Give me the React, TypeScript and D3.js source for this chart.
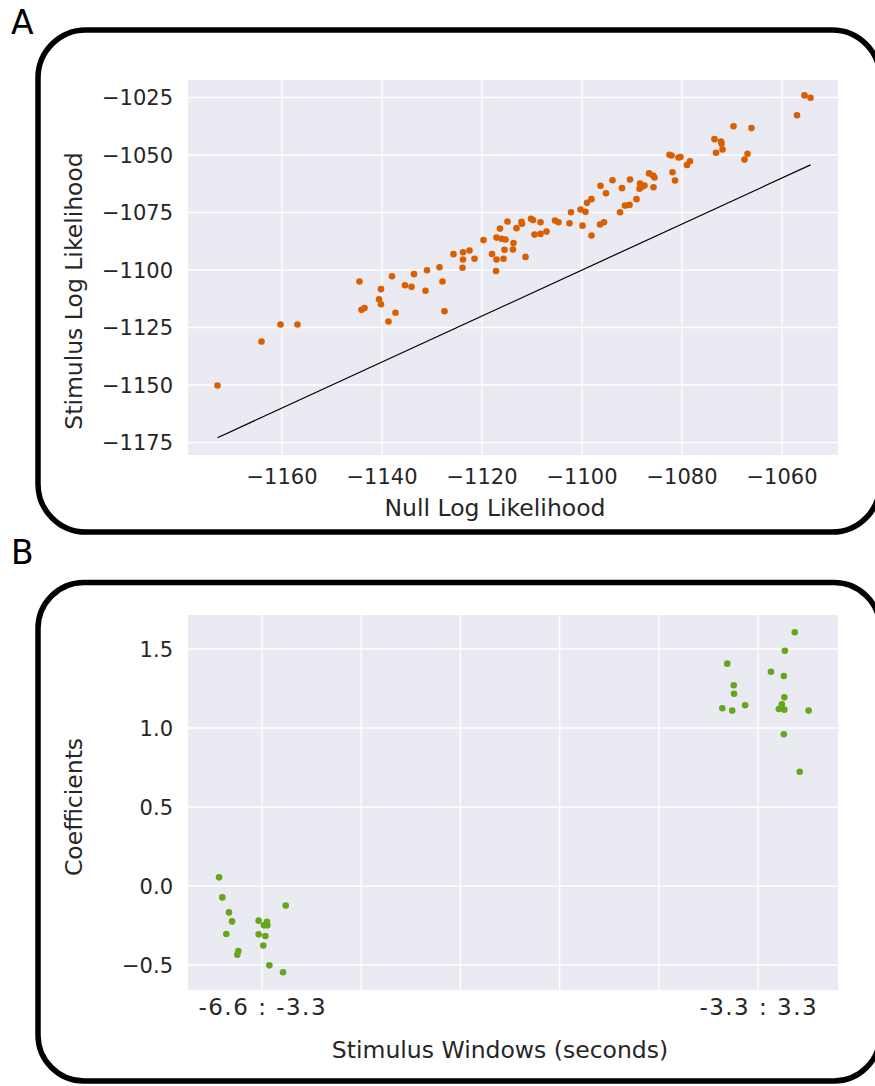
import React from "react";
import * as d3 from "d3";

// Panel A: log likelihood per unit
const nullLL = [
  -1172.9, -1164.1, -1160.3, -1156.9, -1144.5, -1144.1, -1143.5, -1140.2, -1140.6, -1140.2,
  -1138.7, -1137.3, -1138.0, -1135.4, -1134.1, -1133.6, -1131.3, -1131.0, -1128.5, -1127.9,
  -1127.5, -1125.7, -1123.8, -1123.8, -1123.9, -1122.5, -1121.5, -1119.7, -1118.0, -1117.1,
  -1117.1, -1117.2, -1116.4, -1116.1, -1115.3, -1115.5, -1115.7, -1114.9, -1113.7, -1113.8,
  -1113.1, -1112.1, -1112.0, -1111.3, -1110.2, -1109.8, -1109.5, -1108.3, -1108.3, -1107.1,
  -1105.4, -1104.7, -1102.5, -1102.2, -1100.3, -1099.3, -1099.9, -1098.1, -1099.0, -1098.1,
  -1096.3, -1096.4, -1095.6, -1095.2, -1093.9, -1092.4, -1092.0, -1091.4, -1090.5, -1090.4,
  -1089.1, -1088.4, -1088.5, -1088.0, -1087.5, -1086.6, -1085.8, -1085.5, -1085.7, -1082.5,
  -1082.1, -1081.9, -1081.4, -1080.7, -1080.3, -1079.0, -1078.4, -1073.5, -1073.2, -1072.2,
  -1072.1, -1071.9, -1069.7, -1067.5, -1066.9, -1066.1, -1057.0, -1055.5, -1054.3,
];
const stimLL = [
  -1150.2, -1131.1, -1123.7, -1123.7, -1105.0, -1117.3, -1116.5, -1108.3, -1112.7, -1114.9,
  -1122.4, -1118.6, -1102.7, -1106.6, -1107.3, -1101.8, -1109.0, -1100.1, -1098.8, -1105.0,
  -1117.9, -1093.1, -1092.3, -1095.4, -1099.0, -1091.5, -1095.1, -1087.0, -1093.0, -1085.9,
  -1095.4, -1100.4, -1082.0, -1086.4, -1086.7, -1091.2, -1095.1, -1078.9, -1088.3, -1091.1,
  -1081.8, -1079.0, -1079.9, -1094.3, -1077.7, -1078.3, -1084.6, -1084.3, -1079.2, -1083.3,
  -1078.5, -1079.2, -1079.7, -1074.9, -1073.7, -1074.7, -1080.7, -1085.0, -1070.8, -1069.2,
  -1063.4, -1080.2, -1079.2, -1066.6, -1061.0, -1074.9, -1064.4, -1072.0, -1071.7, -1060.7,
  -1069.2, -1062.4, -1064.7, -1063.8, -1063.3, -1058.0, -1058.9, -1059.8, -1064.0, -1049.9,
  -1050.2, -1057.5, -1061.1, -1051.1, -1050.9, -1054.3, -1052.7, -1043.1, -1049.0, -1044.1,
  -1045.1, -1047.6, -1037.5, -1052.0, -1049.5, -1038.3, -1032.7, -1024.1, -1025.1,
];
const xTicksA = [-1160, -1140, -1120, -1100, -1080, -1060];
const yTicksA = [-1175, -1150, -1125, -1100, -1075, -1050, -1025];

// Panel B: coefficients per stimulus window (strip plot)
const windowLabels = ["-6.6 : -3.3", "-3.3 : 3.3"];
const windowPos = [0, 5];
const gridPosB = [0, 1, 2, 3, 4, 5];
const coefWindow = [
  0, 0, 0, 0, 0, 0, 0, 0, 0, 0, 0, 0, 0, 0, 0, 0, 0,
  1, 1, 1, 1, 1, 1, 1, 1, 1, 1, 1, 1, 1, 1, 1, 1, 1,
];
const coefJitter = [
  -0.433, -0.4, -0.333, -0.302, -0.36, -0.239, -0.249, -0.034, 0.05, 0.02, 0.054, -0.034, 0.034, 0.013, 0.074, 0.212, 0.239,
  0.37, 0.27, -0.31, 0.13, 0.26, -0.245, -0.242, 0.265, -0.13, -0.36, -0.26, 0.24, 0.21, 0.265, 0.51, 0.26, 0.42,
];
const coefValue = [
  0.055, -0.072, -0.167, -0.224, -0.304, -0.411, -0.435, -0.219, -0.226, -0.249, -0.249, -0.306, -0.316, -0.376, -0.502, -0.546, -0.124,
  1.606, 1.489, 1.407, 1.356, 1.329, 1.27, 1.217, 1.194, 1.144, 1.125, 1.11, 1.15, 1.12, 1.116, 1.11, 0.96, 0.723,
];
const yTicksB = [-0.5, 0, 0.5, 1, 1.5];

const FONT = "DejaVu Sans, sans-serif";
const TXT = "#262626";
const BG = "#EAEAF2";
const ORANGE = "#d95f02";
const GREEN = "#66a61e";

export default function App() {
  const left = 188, right = 838;
  // Panel A
  const xA = d3.scaleLinear().domain([-1178.8, -1048.8]).range([left, right]);
  const yA = d3.scaleLinear().domain([-1180.4, -1017.4]).range([455, 80]);
  const ext = d3.extent(nullLL) as [number, number];
  const line = d3.line<number>().x((d) => xA(d)).y((d) => yA(d));

  // Panel B
  const xB = d3.scaleLinear().domain([-0.746, 5.806]).range([left, right]);
  const yB = d3.scaleLinear().domain([-0.658, 1.715]).range([990, 615]);
  const fmtB = d3.format(".1f");
  const fmtA = d3.format("d");

  return (
    <svg width={875} height={1086} style={{ position: "absolute", left: 0, top: 0 }} fontFamily={FONT}>
      <rect x={0} y={0} width={875} height={1086} fill="#fff" />
      {/* Frames */}
      <rect x={38} y={30} width={842} height={502} rx={48} ry={48} fill="none" stroke="#000" strokeWidth={5.5} />
      <rect x={38} y={582.5} width={842} height={498.5} rx={46} ry={46} fill="none" stroke="#000" strokeWidth={5.5} />
      <text x={11} y={34} fontSize={33} fill="#000">A</text>
      <text x={11} y={564} fontSize={33} fill="#000">B</text>

      {/* Panel A */}
      <rect x={left} y={80} width={right - left} height={375} fill={BG} />
      {xTicksA.map((t) => (
        <line key={"gxa" + t} x1={xA(t)} x2={xA(t)} y1={80} y2={455} stroke="#fff" strokeWidth={1.4} />
      ))}
      {yTicksA.map((t) => (
        <line key={"gya" + t} x1={left} x2={right} y1={yA(t)} y2={yA(t)} stroke="#fff" strokeWidth={1.4} />
      ))}
      <path d={line(ext) || ""} stroke="#000" strokeWidth={1.2} fill="none" />
      {nullLL.map((v, i) => (
        <circle key={"pa" + i} cx={xA(v)} cy={yA(stimLL[i])} r={3.3} fill={ORANGE} />
      ))}
      {xTicksA.map((t) => (
        <text key={"txa" + t} x={xA(t)} y={484} fontSize={21} fill={TXT} textAnchor="middle">
          {fmtA(t).replace("-", "\u2212")}
        </text>
      ))}
      {yTicksA.map((t) => (
        <text key={"tya" + t} x={173} y={yA(t)} dy="0.36em" fontSize={21} fill={TXT} textAnchor="end">
          {fmtA(t).replace("-", "\u2212")}
        </text>
      ))}
      <text x={495} y={516} fontSize={23.5} fill={TXT} textAnchor="middle">Null Log Likelihood</text>
      <text transform="translate(82,291) rotate(-90)" fontSize={23.5} fill={TXT} textAnchor="middle">
        Stimulus Log Likelihood
      </text>

      {/* Panel B */}
      <rect x={left} y={615} width={right - left} height={375} fill={BG} />
      {gridPosB.map((t) => (
        <line key={"gxb" + t} x1={xB(t)} x2={xB(t)} y1={615} y2={990} stroke="#fff" strokeWidth={1.4} />
      ))}
      {yTicksB.map((t) => (
        <line key={"gyb" + t} x1={left} x2={right} y1={yB(t)} y2={yB(t)} stroke="#fff" strokeWidth={1.4} />
      ))}
      {coefValue.map((v, i) => (
        <circle key={"pb" + i} cx={xB(windowPos[coefWindow[i]] + coefJitter[i])} cy={yB(v)} r={3.3} fill={GREEN} />
      ))}
      {windowLabels.map((l, i) => (
        <text key={"txb" + i} x={xB(windowPos[i]) + 0.75} y={1015} fontSize={23} letterSpacing={1.5} fill={TXT} textAnchor="middle">
          {l}
        </text>
      ))}
      {yTicksB.map((t) => (
        <text key={"tyb" + t} x={173} y={yB(t)} dy="0.36em" fontSize={21} fill={TXT} textAnchor="end">
          {fmtB(t).replace("-", "\u2212")}
        </text>
      ))}
      <text x={500} y={1058} fontSize={23.5} fill={TXT} textAnchor="middle">Stimulus Windows (seconds)</text>
      <text transform="translate(82,807) rotate(-90)" fontSize={23.5} fill={TXT} textAnchor="middle">
        Coefficients
      </text>
    </svg>
  );
}
